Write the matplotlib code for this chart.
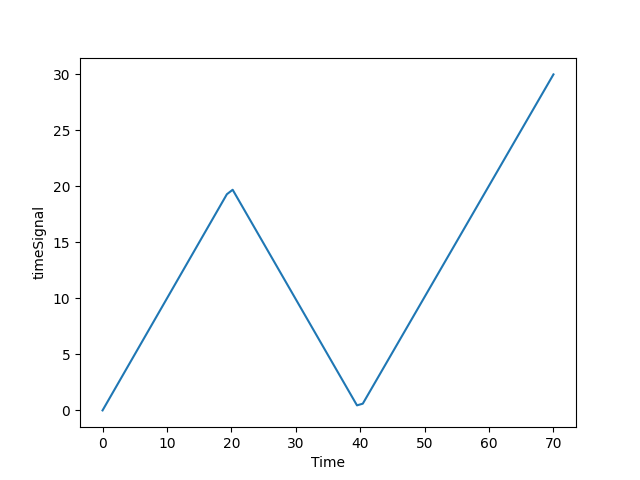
import matplotlib
matplotlib.use("Agg")
import matplotlib.pyplot as plt

# breakpoints
time = [0, 19.3, 20.2, 39.5, 40.4, 70]
timeSignal = [0, 19.3, 19.7, 0.45, 0.6, 30]

fig, ax = plt.subplots(figsize=(6.4, 4.8), dpi=100)
ax.plot(time, timeSignal)
ax.set_xlabel('Time')
ax.set_ylabel('timeSignal')

fig.savefig('out.png')
